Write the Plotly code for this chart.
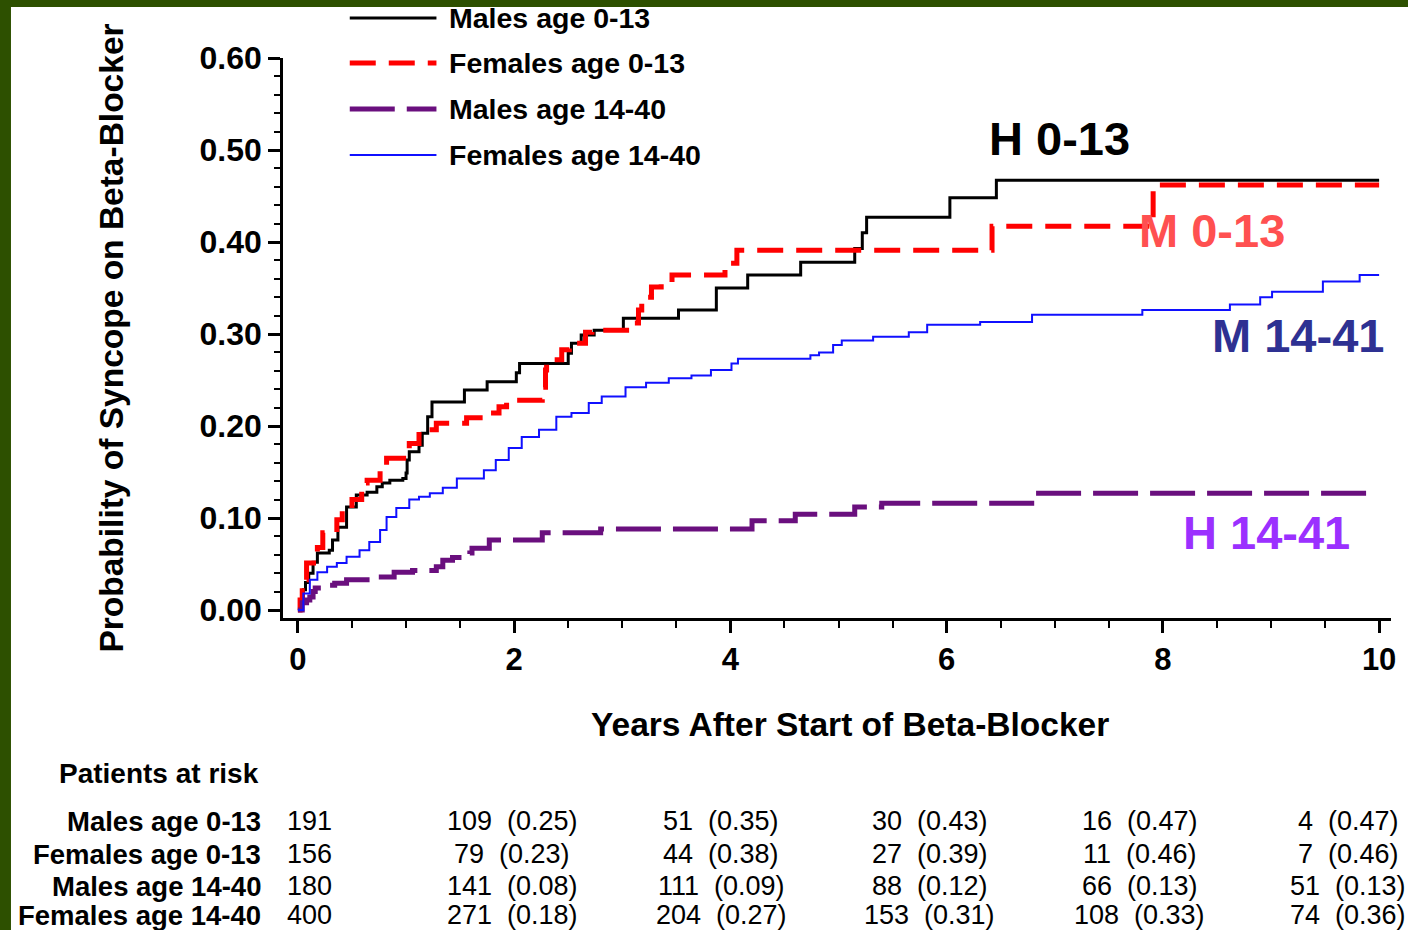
import plotly.graph_objects as go

# ---------------- data ----------------
series_names = ["Males age 0-13", "Females age 0-13", "Males age 14-40", "Females age 14-40"]

black_x = [0, 0.03, 0.05, 0.07, 0.10, 0.14, 0.18, 0.29, 0.32, 0.37, 0.45, 0.54, 0.64, 0.73, 0.78,
           0.85, 0.97, 1.00, 1.01, 1.03, 1.12, 1.15, 1.20, 1.24, 1.54, 1.75, 2.02, 2.05, 2.50,
           2.53, 2.62, 2.74, 3.01, 3.52, 3.87, 4.16, 4.65, 5.15, 5.22, 5.26, 6.03, 6.46, 10.0]
black_y = [0, 0.010, 0.022, 0.030, 0.040, 0.052, 0.062, 0.065, 0.076, 0.090, 0.112, 0.125, 0.128,
           0.134, 0.138, 0.141, 0.143, 0.149, 0.163, 0.172, 0.179, 0.192, 0.210, 0.226, 0.239,
           0.248, 0.258, 0.268, 0.279, 0.290, 0.299, 0.304, 0.317, 0.326, 0.350, 0.364, 0.378,
           0.393, 0.410, 0.427, 0.448, 0.467, 0.467]

red_x = [0, 0.02, 0.04, 0.08, 0.18, 0.23, 0.36, 0.41, 0.50, 0.59, 0.64, 0.76, 0.82, 1.03, 1.12,
         1.28, 1.56, 1.74, 1.86, 1.93, 2.26, 2.29, 2.30, 2.44, 2.51, 2.66, 2.72, 3.04, 3.15, 3.18,
         3.27, 3.36, 3.46, 3.95, 4.06, 6.42, 7.91, 10.0]
red_y = [0, 0.011, 0.033, 0.051, 0.068, 0.084, 0.098, 0.109, 0.120, 0.138, 0.141, 0.155, 0.165,
         0.181, 0.196, 0.203, 0.209, 0.214, 0.221, 0.228, 0.242, 0.261, 0.272, 0.283, 0.290,
         0.302, 0.304, 0.312, 0.326, 0.340, 0.351, 0.355, 0.364, 0.377, 0.391, 0.417, 0.462, 0.462]

purple_x = [0, 0.04, 0.08, 0.11, 0.14, 0.16, 0.27, 0.34, 0.45, 0.70, 0.89, 1.06, 1.28, 1.34, 1.43,
            1.59, 1.61, 1.77, 2.26, 2.80, 4.20, 4.60, 5.15, 5.40, 6.82, 9.92]
purple_y = [0, 0.008, 0.011, 0.014, 0.020, 0.024, 0.027, 0.029, 0.033, 0.036, 0.041, 0.043, 0.047,
            0.054, 0.057, 0.062, 0.067, 0.076, 0.084, 0.088, 0.097, 0.104, 0.112, 0.116, 0.127, 0.127]

blue_x = [0, 0.05, 0.11, 0.18, 0.27, 0.36, 0.45, 0.57, 0.66, 0.76, 0.82, 0.91, 1.03, 1.12, 1.22,
          1.34, 1.47, 1.72, 1.83, 1.95, 2.07, 2.23, 2.39, 2.53, 2.69, 2.81, 3.03, 3.22, 3.43, 3.64,
          3.82, 4.01, 4.07, 4.74, 4.82, 4.95, 5.03, 5.32, 5.65, 5.82, 6.31, 6.79, 7.81, 8.62, 8.90,
          9.01, 9.48, 9.82, 10.0]
blue_y = [0, 0.018, 0.033, 0.041, 0.047, 0.051, 0.058, 0.065, 0.074, 0.087, 0.101, 0.111, 0.120,
          0.123, 0.127, 0.133, 0.143, 0.152, 0.163, 0.176, 0.188, 0.196, 0.210, 0.214, 0.225,
          0.232, 0.242, 0.247, 0.252, 0.255, 0.261, 0.268, 0.273, 0.277, 0.280, 0.288, 0.293,
          0.297, 0.302, 0.310, 0.313, 0.321, 0.326, 0.332, 0.340, 0.346, 0.357, 0.364, 0.364]

x_tick_vals = [0, 2, 4, 6, 8, 10]
y_tick_vals = [0.0, 0.1, 0.2, 0.3, 0.4, 0.5, 0.6]

# patients-at-risk table
risk_rows = ["Males age 0-13", "Females age 0-13", "Males age 14-40", "Females age 14-40"]
risk_baseline = [191, 156, 180, 400]
risk_counts = [[109, 51, 30, 16, 4],
               [79, 44, 27, 11, 7],
               [141, 111, 88, 66, 51],
               [271, 204, 153, 108, 74]]
risk_probs = [["0.25", "0.35", "0.43", "0.47", "0.47"],
              ["0.23", "0.38", "0.39", "0.46", "0.46"],
              ["0.08", "0.09", "0.12", "0.13", "0.13"],
              ["0.18", "0.27", "0.31", "0.33", "0.36"]]

curve_labels = ["H 0-13", "M 0-13", "M 14-41", "H 14-41"]
curve_label_x = [7.04, 8.45, 9.25, 8.96]
curve_label_y = [0.513, 0.413, 0.298, 0.084]

# ---------------- styling ----------------
FONT = "Liberation Sans, Arial, Helvetica, sans-serif"
colors = ["#000000", "#FF0000", "#6A0F7E", "#1010FF"]
widths = [3, 5, 5, 2]
dashes = ["solid", "26px,13px", "45px,12px", "solid"]
label_colors = ["#000000", "#FF5050", "#2E3192", "#9B30FF"]

# plot area in pixels
W, H = 1408, 930
L, R, T, B = 283, 1395, 58, 618


def px(xp):
    return (xp - L) / (R - L)


def py(yp):
    return (B - yp) / (B - T)


fig = go.Figure()
for name, xs, ys, c, w, d in zip(series_names,
                                  [black_x, red_x, purple_x, blue_x],
                                  [black_y, red_y, purple_y, blue_y],
                                  colors, widths, dashes):
    fig.add_trace(go.Scatter(x=xs, y=ys, mode="lines", name=name, line_shape="hv",
                             line=dict(color=c, width=w, dash=d), showlegend=False))

shapes = []
annotations = []

# green frame: paper is green, white rectangle beneath everything
shapes.append(dict(type="rect", xref="paper", yref="paper", layer="below",
                   x0=px(10), x1=px(W + 5), y0=py(7), y1=py(H + 5),
                   fillcolor="white", line=dict(width=0)))

# manual legend
leg_y = [18, 63, 109, 155]
for i, name in enumerate(series_names):
    shapes.append(dict(type="line", xref="paper", yref="paper", x0=px(350), x1=px(437),
                       y0=py(leg_y[i]), y1=py(leg_y[i]),
                       line=dict(color=colors[i], width=widths[i], dash=dashes[i])))
    annotations.append(dict(xref="paper", yref="paper", x=px(448), y=py(leg_y[i]),
                            xanchor="left", yanchor="middle", showarrow=False, text=name,
                            font=dict(family=FONT, size=28.5, color="black", weight="bold")))

# curve labels
for t, x, y, c in zip(curve_labels, curve_label_x, curve_label_y, label_colors):
    annotations.append(dict(x=x, y=y, xref="x", yref="y", text=t, showarrow=False,
                            xanchor="center", yanchor="middle",
                            font=dict(family=FONT, size=47, color=c, weight="bold")))

# axis titles
annotations.append(dict(xref="paper", yref="paper", x=px(852), y=py(724), showarrow=False,
                        text="Years After Start of Beta-Blocker", xanchor="center", yanchor="middle",
                        font=dict(family=FONT, size=33.5, color="black", weight="bold")))
annotations.append(dict(xref="paper", yref="paper", x=px(110), y=py(338), showarrow=False,
                        text="Probability of Syncope on Beta-Blocker", textangle=-90,
                        xanchor="center", yanchor="middle",
                        font=dict(family=FONT, size=33.5, color="black", weight="bold")))

# risk table
annotations.append(dict(xref="paper", yref="paper", x=px(56), y=py(773), showarrow=False,
                        text="Patients at risk", xanchor="left", yanchor="middle",
                        font=dict(family=FONT, size=28, color="black", weight="bold")))
row_y = [821, 854, 886, 915]
col_x = [513, 723, 932, 1143, 1352]
for r, label in enumerate(risk_rows):
    annotations.append(dict(xref="paper", yref="paper", x=px(263), y=py(row_y[r]), showarrow=False,
                            text=label, xanchor="right", yanchor="middle",
                            font=dict(family=FONT, size=27.5, color="black", weight="bold")))
    annotations.append(dict(xref="paper", yref="paper", x=px(285), y=py(row_y[r]), showarrow=False,
                            text=str(risk_baseline[r]), xanchor="left", yanchor="middle",
                            font=dict(family=FONT, size=27, color="black")))
    for c in range(5):
        annotations.append(dict(xref="paper", yref="paper", x=px(col_x[c]), y=py(row_y[r]),
                                showarrow=False,
                                text=f"{risk_counts[r][c]}\u00a0\u00a0({risk_probs[r][c]})",
                                xanchor="center", yanchor="middle",
                                font=dict(family=FONT, size=27, color="black")))

fig.update_layout(
    width=W, height=H, autosize=False,
    margin=dict(l=L, r=W - R, t=T, b=H - B, pad=0),
    paper_bgcolor="#2D5000", plot_bgcolor="white",
    showlegend=False,
    shapes=shapes, annotations=annotations,
    font=dict(family=FONT, color="black"),
)
fig.update_xaxes(range=[-0.138, 10.11], tickvals=x_tick_vals, ticktext=[str(v) for v in x_tick_vals],
                 ticks="outside", ticklen=12, tickwidth=2.5, tickcolor="black",
                 showline=True, linewidth=2.5, linecolor="black", showgrid=False, zeroline=False,
                 tickfont=dict(family=FONT, size=31, color="black", weight="bold"),
                 minor=dict(dtick=0.5, tick0=0, ticks="outside", ticklen=7, tickwidth=2,
                            tickcolor="black", showgrid=False))
fig.update_yaxes(range=[-0.0087, 0.60], tickvals=y_tick_vals,
                 ticktext=[f"{v:.2f}" for v in y_tick_vals],
                 ticks="outside", ticklen=12, tickwidth=2.5, tickcolor="black",
                 showline=True, linewidth=2.5, linecolor="black", showgrid=False, zeroline=False,
                 tickfont=dict(family=FONT, size=32, color="black", weight="bold"),
                 minor=dict(dtick=0.02, tick0=0, ticks="outside", ticklen=6, tickwidth=2,
                            tickcolor="black", showgrid=False))

fig.write_html("out.html")
